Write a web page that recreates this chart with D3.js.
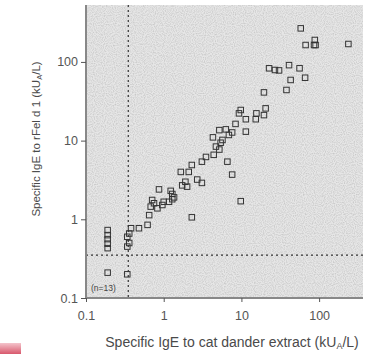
<!DOCTYPE html>
<html>
<head>
<meta charset="utf-8">
<script src="https://cdn.jsdelivr.net/npm/d3@7"></script>
<style>
  html, body { margin: 0; padding: 0; background: #fff; }
  svg { display: block; font-family: "Liberation Sans", Arial, sans-serif; }
</style>
</head>
<body>
<svg id="chart" width="370" height="354"></svg>
<script>
// Specific IgE (kU_A/L): cat dander extract (x) vs rFel d 1 (y), one entry per patient
const danderExtract = [
  58, 67, 86, 88, 90, 238, 22.7, 27, 30.5, 41, 56, 43, 66, 38, 19.5,
  9.8, 9.3, 15.6, 20.5, 19.5, 11.4, 15.3, 8.4, 5.2, 6.3, 7.6, 6.9, 11.4,
  4.3, 5.7, 4.7, 5.4, 5.2, 3.5, 3.1, 4.4, 6.6, 7.6, 2.3, 1.66, 2.1, 2.7,
  3.1, 1.9, 1.73, 2.0, 9.8, 0.87, 1.23, 1.29, 1.36, 1.29, 1.17, 0.71,
  0.75, 1.0, 0.96, 0.83, 0.68, 0.65, 2.3, 0.62, 0.48, 0.38, 0.36, 0.34,
  0.36, 0.34, 0.19, 0.19, 0.19, 0.19, 0.19, 0.19, 0.34
];
const rFeld1 = [
  267, 164, 164, 190, 164, 169, 83, 79, 78, 91, 83, 59, 63, 44, 41,
  24.5, 22.2, 22.2, 25.7, 21.1, 18.7, 18.7, 16.3, 13.6, 13.9, 12.7, 11.8, 13.0,
  11.0, 10.2, 8.4, 9.4, 7.7, 6.2, 5.4, 6.6, 5.4, 3.7, 4.9, 4.0, 4.0, 3.2,
  2.9, 3.0, 2.7, 2.6, 1.7, 2.4, 2.3, 2.1, 1.9, 1.8, 1.67, 1.76,
  1.6, 1.67, 1.52, 1.38, 1.45, 1.13, 1.06, 0.85, 0.77, 0.77, 0.66, 0.60,
  0.50, 0.45, 0.73, 0.63, 0.56, 0.49, 0.43, 0.21, 0.20
];
// Detection cut-off used for both assays
const cutoff = [0.35];
const tickValues = [0.1, 1, 10, 100];
const tickLabels = ["0.1", "1", "10", "100"];
const countNote = ["(n=13)"];

const svg = d3.select("#chart");
const plotL = 86, plotR = 363, plotT = 5, plotB = 298;

const x = d3.scaleLog().domain([0.1, 367]).range([plotL, plotR]);
const y = d3.scaleLog().domain([0.1, 529]).range([plotB, plotT]);

// speckled grey plotting field
const defs = svg.append("defs");
const f = defs.append("filter").attr("id", "speckle")
  .attr("x", 0).attr("y", 0).attr("width", 1).attr("height", 1);
f.append("feTurbulence").attr("type", "fractalNoise")
  .attr("baseFrequency", 0.9).attr("numOctaves", 1).attr("seed", 3).attr("result", "n");
f.append("feColorMatrix").attr("in", "n").attr("type", "matrix")
  .attr("values", "0 0 0 0 0  0 0 0 0 0  0 0 0 0 0  0 0 0 -2.2 1.35")
  .attr("result", "dots");
f.append("feComposite").attr("in", "dots").attr("in2", "SourceGraphic").attr("operator", "in");

svg.append("rect")
  .attr("x", plotL).attr("y", plotT)
  .attr("width", plotR - plotL).attr("height", plotB - plotT)
  .attr("fill", "#e6e6e6");
svg.append("rect")
  .attr("x", plotL).attr("y", plotT)
  .attr("width", plotR - plotL).attr("height", plotB - plotT)
  .attr("fill", "#000")
  .attr("filter", "url(#speckle)")
  .attr("opacity", 0.13);

// cut-off reference lines
const dash = svg.append("g")
  .attr("stroke", "#333").attr("stroke-width", 1.2)
  .attr("stroke-dasharray", "2,3");
dash.append("line")
  .attr("x1", x(cutoff[0])).attr("x2", x(cutoff[0]))
  .attr("y1", plotT).attr("y2", plotB);
dash.append("line")
  .attr("x1", plotL).attr("x2", plotR)
  .attr("y1", y(cutoff[0])).attr("y2", y(cutoff[0]));

// axes
const fmt = d => tickLabels[tickValues.indexOf(d)];
const xAxis = svg.append("g")
  .attr("transform", `translate(0,${plotB})`)
  .call(d3.axisBottom(x).tickValues(tickValues).tickFormat(fmt).tickSize(4).tickPadding(9));
const yAxis = svg.append("g")
  .attr("transform", `translate(${plotL},0)`)
  .call(d3.axisLeft(y).tickValues(tickValues).tickFormat(fmt).tickSize(5).tickPadding(3));

[xAxis, yAxis].forEach(g => {
  g.select(".domain").attr("stroke", "#888").attr("stroke-width", 2);
  g.selectAll(".tick line").attr("stroke", "#555");
  g.selectAll("text").attr("fill", "#555").attr("font-size", 12.5)
    .attr("font-family", "Liberation Sans, Arial, sans-serif");
});
xAxis.select(".domain").attr("d", `M${plotL},0H${plotR}`);
yAxis.select(".domain").attr("d", `M0,${plotT}V${plotB}`);

// patients
const pts = danderExtract.map((v, i) => [v, rFeld1[i]]);
const s = 5.5;
svg.append("g")
  .selectAll("rect")
  .data(pts)
  .join("rect")
  .attr("x", d => x(d[0]) - s / 2)
  .attr("y", d => y(d[1]) - s / 2)
  .attr("width", s).attr("height", s)
  .attr("fill", "none")
  .attr("stroke", "#333")
  .attr("stroke-width", 1);

svg.append("text")
  .attr("x", plotL + 5).attr("y", plotB - 7)
  .attr("font-size", 8.5).attr("fill", "#444")
  .text(countNote[0]);

// axis titles
const xt = svg.append("text")
  .attr("x", 232).attr("y", 347)
  .attr("text-anchor", "middle")
  .attr("font-size", 14).attr("fill", "#4a4a4a");
xt.append("tspan").text("Specific IgE to cat dander extract (kU");
xt.append("tspan").attr("font-size", 9).attr("dy", 2).text("A");
xt.append("tspan").attr("dy", -2).text("/L)");

const yt = svg.append("text")
  .attr("transform", "translate(40,139) rotate(-90)")
  .attr("text-anchor", "middle")
  .attr("font-size", 11.5).attr("fill", "#4a4a4a");
yt.append("tspan").text("Specific IgE to rFel d 1 (kU");
yt.append("tspan").attr("font-size", 7.5).attr("dy", 2).text("A");
yt.append("tspan").attr("dy", -2).text("/L)");

// page-edge colour tab
const grad = defs.append("linearGradient").attr("id", "tab")
  .attr("x1", 0).attr("x2", 0).attr("y1", 0).attr("y2", 1);
grad.append("stop").attr("offset", 0).attr("stop-color", "#f4c4cc");
grad.append("stop").attr("offset", 1).attr("stop-color", "#d8586c");
svg.append("rect").attr("x", 0).attr("y", 343).attr("width", 21).attr("height", 11)
  .attr("fill", "url(#tab)");
</script>
</body>
</html>
